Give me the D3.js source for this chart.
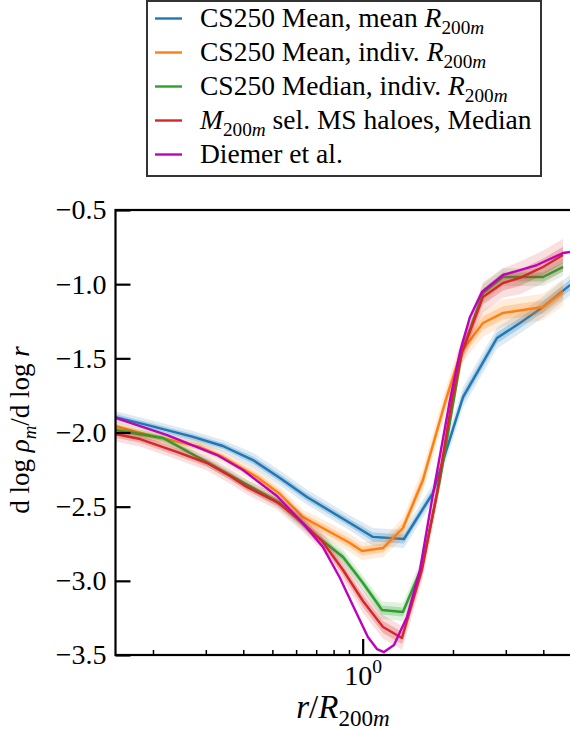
<!DOCTYPE html>
<html>
<head>
<meta charset="utf-8">
<script src="https://cdn.jsdelivr.net/npm/d3@7"></script>
<style>
  body { margin: 0; background: #fff; }
  svg { display: block; }
  svg text, svg tspan { fill: #000; white-space: pre; }
</style>
</head>
<body>
<svg id="chart" width="570" height="734"></svg>
<script>
// r / R200m and d log rho / d log r

// CS250 Mean, mean R200m
const rBlue = [0.15, 0.195, 0.272, 0.342, 0.431, 0.53, 0.652, 0.907, 1.082, 1.373, 1.714, 2.16, 2.804, 3.344, 3.99, 4.91]
const vBlue = [-1.896, -1.954, -2.03, -2.091, -2.186, -2.307, -2.435, -2.61, -2.704, -2.718, -2.408, -1.761, -1.363, -1.262, -1.154, -1.006]
const eBlue = [0.02, 0.02, 0.02, 0.02, 0.025, 0.025, 0.025, 0.025, 0.03, 0.03, 0.03, 0.035, 0.035, 0.035, 0.035, 0.035]

// CS250 Mean, indiv. R200m
const rOrange = [0.15, 0.177, 0.287, 0.342, 0.444, 0.53, 0.632, 0.778, 0.907, 0.995, 1.169, 1.362, 1.588, 1.88, 2.127, 2.518, 2.936, 3.99, 4.654]
const vOrange = [-1.956, -1.997, -2.098, -2.165, -2.3, -2.415, -2.57, -2.671, -2.745, -2.799, -2.779, -2.644, -2.32, -1.801, -1.457, -1.262, -1.194, -1.154, -1.053]
const eOrange = [0.02, 0.02, 0.02, 0.02, 0.025, 0.025, 0.025, 0.03, 0.03, 0.03, 0.03, 0.035, 0.04, 0.04, 0.04, 0.045, 0.045, 0.045, 0.045]

// CS250 Median, indiv. R200m
const rGreen = [0.15, 0.216, 0.294, 0.39, 0.53, 0.683, 0.86, 1.002, 1.16, 1.362, 1.576, 1.81, 2.143, 2.518, 2.936, 3.344, 3.99, 4.654]
const vGreen = [-1.983, -2.037, -2.185, -2.325, -2.475, -2.678, -2.839, -3.015, -3.197, -3.21, -2.907, -2.32, -1.457, -1.06, -0.952, -0.952, -0.952, -0.884]
const eGreen = [0.015, 0.015, 0.015, 0.015, 0.02, 0.02, 0.025, 0.025, 0.03, 0.03, 0.03, 0.03, 0.03, 0.03, 0.03, 0.03, 0.03, 0.03]

// M200m selected MS haloes, Median
const rRed = [0.15, 0.181, 0.24, 0.303, 0.361, 0.411, 0.518, 0.618, 0.732, 0.86, 1.002, 1.169, 1.352, 1.576, 1.769, 1.985, 2.143, 2.518, 2.936, 3.344, 3.99, 4.654]
const vRed = [-2.01, -2.044, -2.131, -2.206, -2.293, -2.367, -2.469, -2.59, -2.732, -2.927, -3.136, -3.311, -3.385, -2.927, -2.408, -1.781, -1.457, -1.087, -0.992, -0.958, -0.884, -0.803]
const eRed = [0.025, 0.025, 0.025, 0.025, 0.025, 0.025, 0.025, 0.03, 0.03, 0.035, 0.04, 0.04, 0.04, 0.04, 0.045, 0.045, 0.045, 0.05, 0.05, 0.055, 0.055, 0.055]

// Diemer et al.
const rMagenta = [0.15, 0.223, 0.327, 0.399, 0.518, 0.618, 0.737, 0.84, 0.943, 1.041, 1.116, 1.178, 1.272, 1.405, 1.552, 1.702, 1.954, 2.11, 2.279, 2.498, 2.936, 3.344, 3.811, 4.654, 4.91]
const vMagenta = [-1.902, -2.017, -2.152, -2.253, -2.428, -2.59, -2.772, -2.981, -3.197, -3.379, -3.46, -3.48, -3.433, -3.244, -2.927, -2.455, -1.781, -1.457, -1.221, -1.053, -0.938, -0.905, -0.871, -0.79, -0.783]

const yTicks = [-3.5, -3.0, -2.5, -2.0, -1.5, -1.0, -0.5]
const xMinorTicks = [0.2, 0.3, 0.4, 0.5, 0.6, 0.7, 0.8, 0.9, 2, 3, 4]
const xMajorTicks = [1]

const series = [
  { r: rBlue, v: vBlue, e: eBlue, color: "#1f77b4",
    label: [["CS250 Mean, mean ", ""], ["R", "i"], ["200", "s"], ["m", "si"]] },
  { r: rOrange, v: vOrange, e: eOrange, color: "#ff7f0e",
    label: [["CS250 Mean, indiv. ", ""], ["R", "i"], ["200", "s"], ["m", "si"]] },
  { r: rGreen, v: vGreen, e: eGreen, color: "#2ca02c",
    label: [["CS250 Median, indiv. ", ""], ["R", "i"], ["200", "s"], ["m", "si"]] },
  { r: rRed, v: vRed, e: eRed, color: "#d62728",
    label: [["M", "i"], ["200", "s"], ["m", "si"], [" sel. MS haloes, Median", ""]] },
  { r: rMagenta, v: vMagenta, e: null, color: "#bf00bf",
    label: [["Diemer et al.", ""]] }
]

const serif = "'Liberation Serif', 'Times New Roman', serif"
const svg = d3.select("#chart")
const plotLeft = 115.5, plotTop = 210, plotBottom = 655
const x = d3.scaleLog().domain([0.15, 5]).range([plotLeft, plotLeft + 300 * Math.log10(5 / 0.15)])
const y = d3.scaleLinear().domain([-3.5, -0.5]).range([plotBottom, plotTop])
const plotRight = x.range()[1]

// text with italic / sub / superscript pieces
function rich(sel, parts, size) {
  let shift = 0
  sel.style("font-family", serif)
  parts.forEach(([t, s]) => {
    const sub = s.includes("s"), sup = s.includes("p")
    const want = sub ? 0.25 * size : sup ? -0.42 * size : 0
    sel.append("tspan")
      .attr("dy", want - shift)
      .style("font-family", serif)
      .attr("font-style", s.includes("i") ? "italic" : null)
      .attr("font-size", sub || sup ? size * 0.7 : size)
      .text(t)
    shift = want
  })
  return sel
}

svg.append("clipPath").attr("id", "plot")
  .append("rect")
    .attr("x", plotLeft).attr("y", plotTop)
    .attr("width", plotRight - plotLeft).attr("height", plotBottom - plotTop)

const g = svg.append("g").attr("clip-path", "url(#plot)")

series.forEach(s => {
  const pts = s.r.map((r, i) => ({ r: r, v: s.v[i], e: s.e ? s.e[i] : 0 }))
  if (s.e) {
    [2, 1].forEach(k => {
      g.append("path")
        .datum(pts)
        .attr("fill", s.color)
        .attr("fill-opacity", k === 2 ? 0.15 : 0.25)
        .attr("d", d3.area()
          .x(d => x(d.r))
          .y0(d => y(d.v - k * d.e))
          .y1(d => y(d.v + k * d.e)))
    })
  }
  g.append("path")
    .datum(pts)
    .attr("fill", "none")
    .attr("stroke", s.color)
    .attr("stroke-width", 2.4)
    .attr("stroke-linejoin", "round")
    .attr("d", d3.line().x(d => x(d.r)).y(d => y(d.v)))
})

// axes, ticks pointing inward
const yAxis = svg.append("g")
    .attr("transform", "translate(" + plotLeft + ",0)")
    .call(d3.axisLeft(y).tickValues(yTicks).tickSize(-15).tickSizeOuter(0).tickPadding(9)
      .tickFormat(d3.format(".1f")))
yAxis.attr("font-size", 28)
yAxis.selectAll("text").style("font-family", serif).attr("font-size", 28)
yAxis.selectAll("line").attr("stroke-width", 2.2)

const xMinor = svg.append("g")
    .attr("transform", "translate(0," + plotBottom + ")")
    .call(d3.axisBottom(x).tickValues(xMinorTicks).tickSize(-5).tickSizeOuter(0).tickFormat(""))
xMinor.selectAll("line").attr("stroke-width", 1.5)

const xMajor = svg.append("g")
    .attr("transform", "translate(0," + plotBottom + ")")
    .call(d3.axisBottom(x).tickValues(xMajorTicks).tickSize(-16).tickSizeOuter(0).tickFormat(""))
xMajor.attr("font-size", 28)
xMajor.selectAll("line").attr("stroke-width", 2.2)
xMajor.selectAll("text").each(function() {
  const t = d3.select(this).attr("y", 30).attr("dy", null).attr("font-size", 28)
  rich(t, [["10", ""], ["0", "p"]], 28)
})

svg.selectAll(".domain").remove()

// spines
svg.append("rect")
    .attr("x", plotLeft).attr("y", plotTop)
    .attr("width", plotRight - plotLeft).attr("height", plotBottom - plotTop)
    .attr("fill", "none")
    .attr("stroke", "#000")
    .attr("stroke-width", 2.2)

// axis labels
rich(svg.append("text")
    .attr("x", 343).attr("y", 718)
    .attr("text-anchor", "middle")
    .attr("font-size", 33),
  [["r", "i"], ["/", ""], ["R", "i"], ["200", "s"], ["m", "si"]], 33)

rich(svg.append("text")
    .attr("transform", "translate(29,430) rotate(-90)")
    .attr("text-anchor", "middle")
    .attr("font-size", 27),
  [["d log ", ""], ["ρ", "i"], ["m", "si"], ["/d log ", ""], ["r", "i"]], 27)

// legend
const legend = svg.append("g")
legend.append("rect")
    .attr("x", 147).attr("y", 1)
    .attr("width", 394).attr("height", 175)
    .attr("fill", "#fff")
    .attr("stroke", "#333")
    .attr("stroke-width", 2)

series.forEach((s, i) => {
  const ly = 18.5 + i * 34
  legend.append("line")
    .attr("x1", 155).attr("x2", 182)
    .attr("y1", ly).attr("y2", ly)
    .attr("stroke", s.color)
    .attr("stroke-width", 2.4)
  rich(legend.append("text")
      .attr("x", 200).attr("y", ly + 8.5)
      .attr("font-size", 27.5),
    s.label, 27.5)
})
</script>
</body>
</html>
